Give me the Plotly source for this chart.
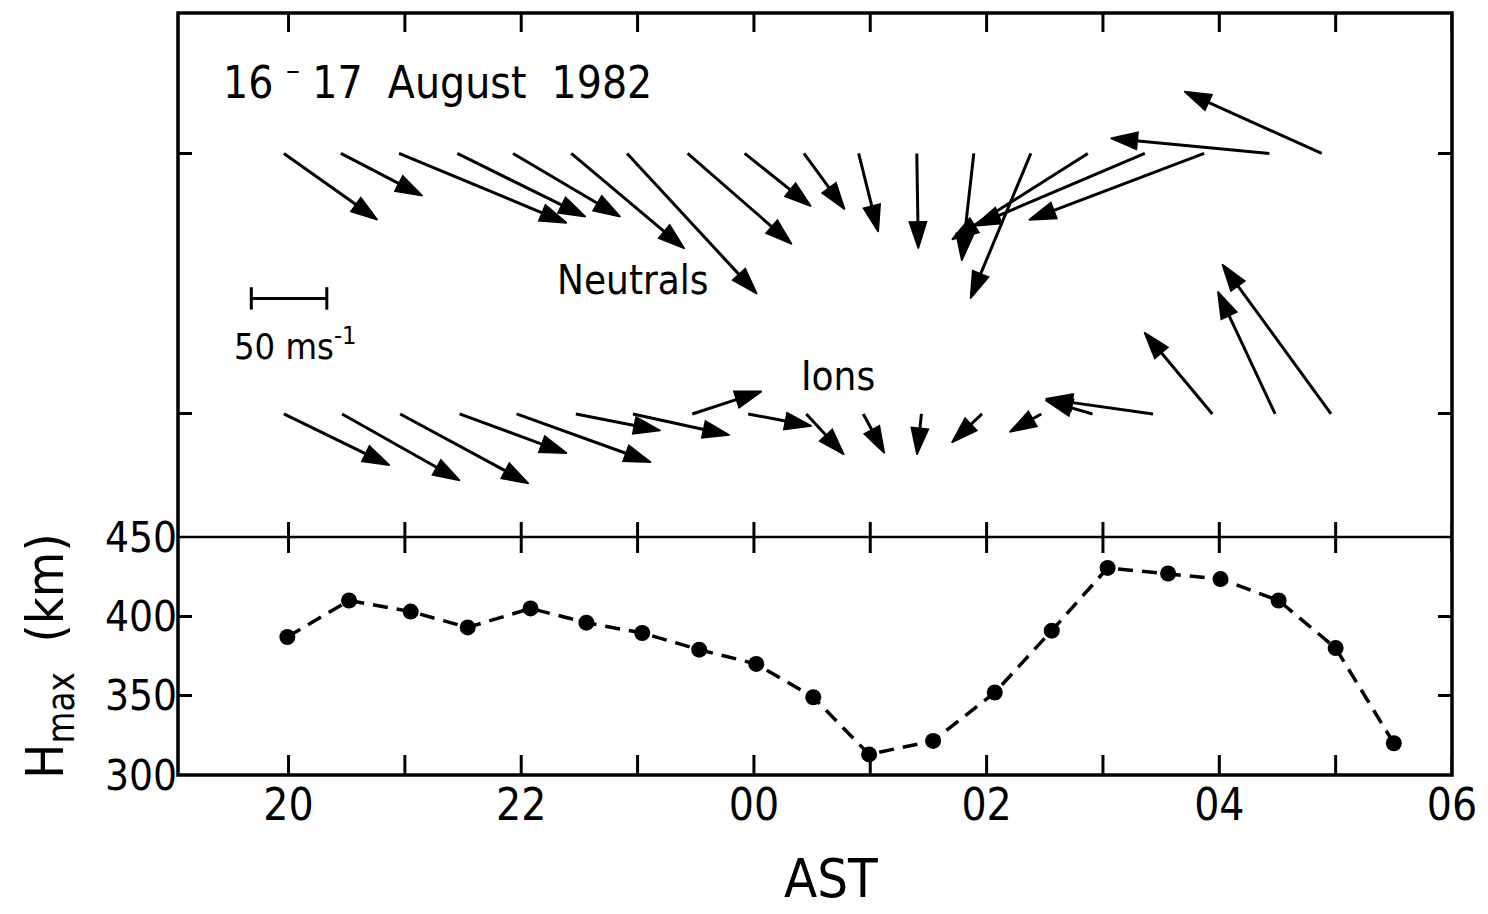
import plotly.graph_objects as go

# ---------------- data ----------------
# Hmax (km) versus AST (hours; values > 24 are after midnight)
hmax_time = [19.99, 20.52, 21.05, 21.54, 22.08, 22.56, 23.04, 23.53, 24.02, 24.51,
             24.99, 25.54, 26.07, 26.56, 27.04, 27.56, 28.01, 28.51, 29.00, 29.50]
hmax_km = [387, 410, 403, 393, 405, 396, 389.5, 379, 370, 349,
           313, 321.5, 352, 391, 430.5, 427, 423.5, 410, 380, 320]

# Neutral wind vectors (m/s, eastward u, northward v)
neut_time = [19.96, 20.45, 20.95, 21.45, 21.93, 22.43, 22.91, 23.43, 23.92, 24.43,
             24.90, 25.40, 25.89, 26.38, 26.87, 27.36, 27.87, 28.43, 28.88]
neut_u = [62, 54, 111, 85, 71, 75, 86, 69, 44, 27, 13, 1, -8, -40, -90, -113, -116, -105, -91]
neut_v = [-44, -28, -46, -42, -42, -63, -93, -60, -35, -37, -52, -63, -71, -96, -57, -48, -44, 10, 41]

# Ion drift vectors (m/s, eastward u, northward v)
ion_time = [19.96, 20.46, 20.96, 21.47, 21.96, 22.47, 22.96, 23.47, 23.95, 24.45,
            24.94, 25.44, 25.96, 26.47, 26.91, 27.43, 27.94, 28.48, 28.96]
ion_u = [70, 78, 85, 71, 89, 56, 64, 46, 42, 25, 14, -3, -20, -21, -31, -71, -45, -38, -72]
ion_v = [-34, -44, -46, -26, -32, -11, -14, 15, -8, -27, -26, -27, -19, -12, 9, 10, 54, 81, 99]

hour_ticks = [20, 21, 22, 23, 24, 25, 26, 27, 28, 29, 30]
hour_labels = ["20", "", "22", "", "00", "", "02", "", "04", "", "06"]
hmax_ticks = [300, 350, 400, 450]

# ---------------- layout geometry ----------------
W, H = 1488, 914
ML, MR, MT, MB = 178, 36, 13, 139
XR = [19.05, 30.0]
VEL_MAX = 347.0            # top panel vertical extent in m/s units
BOT_FRAC = 0.3123          # bottom panel fraction of plot height
NEUT_BASE = 254.0
ION_BASE = 81.5
SCALE_LEN = 50

plot_w = W - ML - MR
plot_h = H - MT - MB
px_per_hr = plot_w / (XR[1] - XR[0])
px_per_ms = plot_h * (1 - BOT_FRAC) / VEL_MAX
k = px_per_ms / px_per_hr   # hours of x-axis per m/s so arrows keep true direction

FONT = "Liberation Sans Narrow, DejaVu Sans Condensed, Arial Narrow, sans-serif"

fig = go.Figure()


def arrow_trace(times, us, vs, base):
    xs, ys, sizes = [], [], []
    for t, u, v in zip(times, us, vs):
        xs += [t, t + u * k, None]
        ys += [base, base + v, None]
        sizes += [0, 28, 0]
    return go.Scatter(x=xs, y=ys, xaxis="x2", yaxis="y2", mode="lines+markers",
                      line=dict(color="black", width=3),
                      marker=dict(symbol="arrow", size=sizes, color="black", opacity=1,
                                  angleref="previous", line=dict(width=1.5, color="black")),
                      hoverinfo="skip", showlegend=False)


fig.add_trace(arrow_trace(neut_time, neut_u, neut_v, NEUT_BASE))
fig.add_trace(arrow_trace(ion_time, ion_u, ion_v, ION_BASE))

# scale bar
sb_x0 = 19.68
fig.add_trace(go.Scatter(x=[sb_x0, sb_x0 + SCALE_LEN * k], y=[158, 158], xaxis="x2", yaxis="y2",
                         mode="lines+markers", line=dict(color="black", width=3),
                         marker=dict(symbol="line-ns", size=16, line=dict(width=3, color="black")),
                         hoverinfo="skip", showlegend=False))

# Hmax
fig.add_trace(go.Scatter(x=hmax_time, y=hmax_km, xaxis="x", yaxis="y", mode="lines+markers",
                         line=dict(color="black", width=3.5, dash="15px,9px"),
                         marker=dict(symbol="circle", size=16, color="black"),
                         hoverinfo="skip", showlegend=False))

annots = [
    dict(text="16 <sup>\u2013</sup> 17\u00a0\u00a0August\u00a0\u00a01982", x=19.42, y=303, xanchor="left",
         font=dict(size=44), xref="x2", yref="y2", yanchor="middle"),
    dict(text="Neutrals", x=22.96, y=170, font=dict(size=40), xref="x2", yref="y2", yanchor="middle"),
    dict(text="Ions", x=24.72, y=106.6, font=dict(size=40), xref="x2", yref="y2", yanchor="middle"),
    dict(text="50 ms<sup>-1</sup>", x=19.51, y=128, xanchor="left", font=dict(size=36),
         xref="x2", yref="y2", yanchor="middle"),
    dict(text="AST", x=(831 - ML) / plot_w, y=-(912 - (H - MB)) / plot_h, font=dict(size=54),
         xref="paper", yref="paper", yanchor="bottom"),
]
for a in annots:
    a.update(showarrow=False)
    a["font"].update(family=FONT, color="black")
    fig.add_annotation(**a)

# frame and panel separator
fig.add_shape(type="rect", xref="paper", yref="paper", x0=0, x1=1, y0=0, y1=1,
              line=dict(color="black", width=3.5), layer="above")
fig.add_shape(type="line", xref="paper", yref="paper", x0=0, x1=1, y0=BOT_FRAC, y1=BOT_FRAC,
              line=dict(color="black", width=2.5), layer="above")

# hour tick marks along the top frame, across the panel separator and along the bottom axis
tick_spans = [(1 - 19 / plot_h, 1), (BOT_FRAC - 16 / plot_h, BOT_FRAC + 15 / plot_h), (0, 20 / plot_h)]
for hv in hour_ticks:
    for y0, y1 in tick_spans:
        fig.add_shape(type="line", xref="x", yref="paper", x0=hv, x1=hv, y0=y0, y1=y1,
                      line=dict(color="black", width=3), layer="above")

axis_common = dict(showline=False, tickwidth=3, tickcolor="black",
                   showgrid=False, zeroline=False, automargin=False)

fig.update_layout(
    width=W, height=H,
    margin=dict(l=ML, r=MR, t=MT, b=MB, autoexpand=False),
    paper_bgcolor="white", plot_bgcolor="rgba(0,0,0,0)",
    font=dict(family=FONT, color="black"),
    xaxis=dict(domain=[0, 1], anchor="y", range=XR, tickvals=hour_ticks, ticktext=hour_labels,
               ticks="", tickfont=dict(size=44, family=FONT), **axis_common),
    xaxis2=dict(domain=[0, 1], anchor="y2", range=XR, tickvals=hour_ticks, ticks="",
                showticklabels=False, **axis_common),
    yaxis=dict(domain=[0, BOT_FRAC], anchor="x", range=[300, 450], tickvals=hmax_ticks,
               ticks="inside", ticklen=14, tickfont=dict(size=42, family=FONT), mirror="ticks",
               title=dict(text="H<sub>max</sub>\u00a0\u00a0(km)", font=dict(size=52, family=FONT), standoff=24),
               **axis_common),
    yaxis2=dict(domain=[BOT_FRAC, 1], anchor="x2", range=[0, VEL_MAX], tickvals=[ION_BASE, NEUT_BASE],
                ticks="inside", showticklabels=False, ticklen=14, mirror="ticks", **axis_common),
)

fig.write_html("out.html")
